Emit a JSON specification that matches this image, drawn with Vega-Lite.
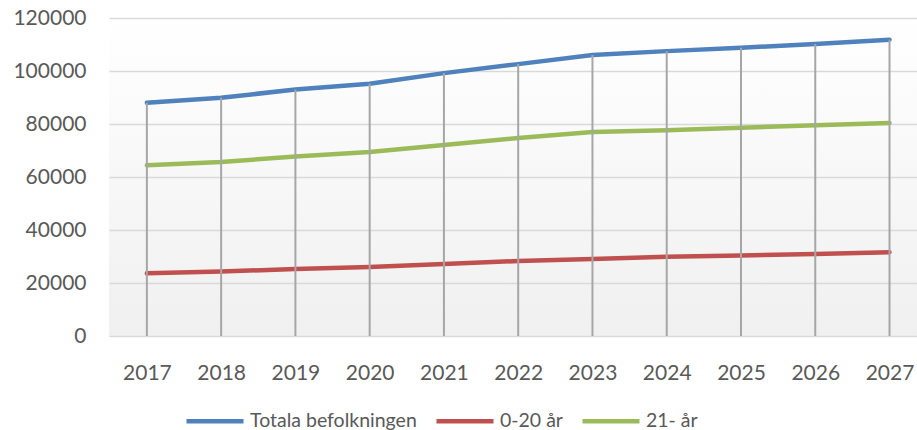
{
  "$schema": "https://vega.github.io/schema/vega-lite/v6.json",
  "autosize": {"type": "none"},
  "width": 808,
  "height": 318,
  "padding": {"left": 109, "top": 18, "right": 0, "bottom": 94},
  "background": "#ffffff",
  "config": {
    "view": {"stroke": null, "fill": {"gradient": "linear", "x1": 0, "y1": 0, "x2": 0, "y2": 1, "stops": [{"offset": 0, "color": "#ffffff"}, {"offset": 1, "color": "#f0f0f0"}]}},
    "font": "Lato",
    "axis": {"labelFont": "Lato", "labelFontSize": 21, "labelColor": "#595959", "ticks": false, "domain": false, "title": null},
    "legend": {"labelFont": "Lato", "labelFontSize": 19.5, "labelColor": "#595959", "labelLimit": 0}
  },
  "data": {"values": [
    {"year": 2017, "Totala befolkningen": 88000, "0-20 år": 23650, "21- år": 64400},
    {"year": 2018, "Totala befolkningen": 89900, "0-20 år": 24300, "21- år": 65700},
    {"year": 2019, "Totala befolkningen": 93000, "0-20 år": 25300, "21- år": 67700},
    {"year": 2020, "Totala befolkningen": 95200, "0-20 år": 26000, "21- år": 69400},
    {"year": 2021, "Totala befolkningen": 99200, "0-20 år": 27200, "21- år": 72100},
    {"year": 2022, "Totala befolkningen": 102600, "0-20 år": 28300, "21- år": 74700},
    {"year": 2023, "Totala befolkningen": 106000, "0-20 år": 29100, "21- år": 77000},
    {"year": 2024, "Totala befolkningen": 107500, "0-20 år": 29900, "21- år": 77600},
    {"year": 2025, "Totala befolkningen": 108800, "0-20 år": 30400, "21- år": 78600},
    {"year": 2026, "Totala befolkningen": 110200, "0-20 år": 30900, "21- år": 79500},
    {"year": 2027, "Totala befolkningen": 111800, "0-20 år": 31600, "21- år": 80400}
  ]},
  "layer": [
    {
      "transform": [{"fold": ["Totala befolkningen", "0-20 år", "21- år"], "as": ["serie", "value"]}],
      "mark": {"type": "line", "strokeWidth": 4.5, "strokeCap": "round"},
      "encoding": {
        "x": {"field": "year", "type": "quantitative", "scale": {"domain": [2016.49, 2027.37], "nice": false, "zero": false},
          "axis": {"labelPadding": 26, "grid": false, "values": [2017, 2018, 2019, 2020, 2021, 2022, 2023, 2024, 2025, 2026, 2027], "format": "d", "labelFlush": false, "labelOverlap": false}},
        "y": {"field": "value", "type": "quantitative", "scale": {"domain": [0, 120000]},
          "axis": {"values": [0, 20000, 40000, 60000, 80000, 100000, 120000], "labelPadding": 23, "grid": true, "gridColor": "#d9d9d9", "gridWidth": 1.5, "format": "d"}},
        "color": {"field": "serie", "type": "nominal",
          "scale": {"domain": ["Totala befolkningen", "0-20 år", "21- år"], "range": ["#4f81bd", "#c0504d", "#9bbb59"]},
          "sort": ["Totala befolkningen", "0-20 år", "21- år"],
          "legend": {"title": null, "orient": "none", "direction": "horizontal", "legendX": 75, "legendY": 372,
            "symbolType": "stroke", "symbolSize": 3249, "symbolStrokeWidth": 4.5, "labelOffset": 4, "columnPadding": 10}}
      }
    },
    {
      "mark": {"type": "rule", "color": "#a6a6a6", "strokeWidth": 2},
      "encoding": {
        "x": {"field": "year", "type": "quantitative"},
        "y": {"field": "Totala befolkningen", "type": "quantitative"},
        "y2": {"datum": 0}
      }
    }
  ]
}
